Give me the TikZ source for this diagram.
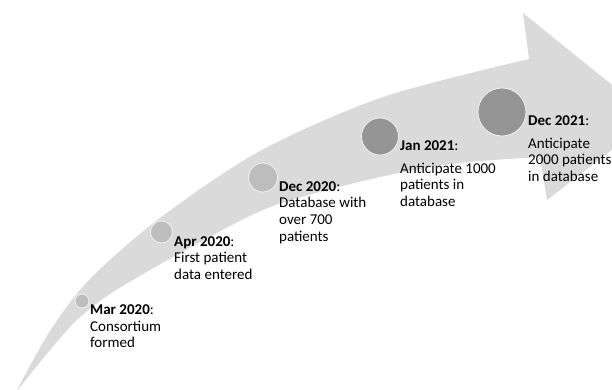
\documentclass[tikz,border=0pt]{standalone}
\usepackage{fontspec}
\setmainfont{Carlito}
\definecolor{bandgray}{HTML}{DADADA}
\definecolor{dotlight}{HTML}{BDBDBD}
\definecolor{dotdark}{HTML}{959595}
\begin{document}
\begin{tikzpicture}[x=1pt,y=-1pt,
  dot/.style={circle, draw=white!95!black, line width=0.8pt, inner sep=0pt},
  lbl/.style={anchor=base west, inner sep=0pt, align=left, font=\fontsize{15}{16.7}\selectfont}]
\useasboundingbox (0,0) rectangle (612,389);
\clip (0,0) rectangle (612,389);
\fill[bandgray] plot[smooth] coordinates {(16,392) (50,331) (90,279) (160,218) (260,151) (383,97) (529,59)}
  -- (523,13) -- (653,118) -- (547,200) -- (540,157)
  -- plot[smooth] coordinates {(540,157) (460,163) (380,177) (273,206) (193,246) (113,292) (77,320) (50,350) (16,392)} -- cycle;
\node[dot, fill=dotlight, minimum size=14pt] (c1) at (82,301) {};
\node[dot, fill=dotlight, minimum size=22pt] (c2) at (161.5,232) {};
\node[dot, fill=dotlight, minimum size=29pt] (c3) at (263,177.5) {};
\node[dot, fill=dotdark, minimum size=37pt] (c4) at (380,136.5) {};
\node[dot, fill=dotdark, minimum size=48pt] (c5) at (502,112) {};
% anchor = baseline of the last line
\node[lbl] (t1) at (90,347.9) {\textbf{Mar 2020}:\\Consortium\\formed};
\node[lbl] (t2) at (174,279.4) {\textbf{Apr 2020}:\\First patient\\data entered};
\node[lbl] (t3) at (279,241.1) {\textbf{Dec 2020}:\\Database with\\over 700\\patients};
\node[lbl] (t4) at (400,206.4) {\textbf{Jan 2021}:\\[6.3pt]Anticipate 1000\\patients in\\database};
\node[lbl] (t5) at (528,181.4) {\textbf{Dec 2021}:\\[6.3pt]Anticipate\\2000 patients\\in database};
\end{tikzpicture}
\end{document}
